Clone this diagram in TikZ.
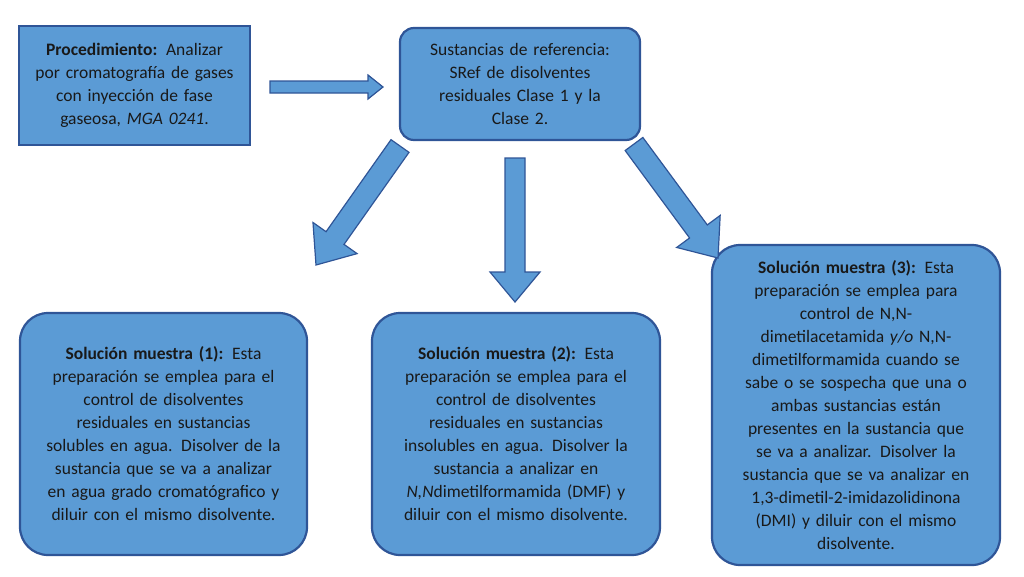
\documentclass[tikz,border=0pt]{standalone}
\usepackage{fontspec}
\setmainfont{Carlito}
\usetikzlibrary{calc}
\definecolor{fillb}{HTML}{5B9BD5}
\definecolor{edgeb}{HTML}{2F5597}
\tikzset{
 box/.style={draw=edgeb, line width=2.2pt, fill=fillb, align=center, text=black!90,
   font=\fontsize{17.5}{23}\selectfont, inner sep=4pt},
 rbox/.style={box, rounded corners=28pt},
 barrowst/.style={draw=edgeb, line width=1.2pt, fill=fillb, line join=miter}
}
\newcommand\blockarrow[5]{% from, to, shaft half, head half, head length
 \draw[barrowst] ($(#1)!#3pt!90:(#2)$) -- ($($(#2)!#5pt!(#1)$)!#3pt!-90:(#1)$)
   -- ($($(#2)!#5pt!(#1)$)!#4pt!-90:(#1)$) -- (#2)
   -- ($($(#2)!#5pt!(#1)$)!#4pt!90:(#1)$) -- ($($(#2)!#5pt!(#1)$)!#3pt!90:(#1)$)
   -- ($(#1)!#3pt!-90:(#2)$) -- cycle;}
\begin{document}
\begin{tikzpicture}[x=1pt,y=-1pt]
\useasboundingbox (0,0) rectangle (1024,576);
\node[box, minimum width=231pt, minimum height=119pt, text width=222pt] (p) at (134.5,85.5)
 {\textbf{Procedimiento:} Analizar\\ por cromatografía de gases\\ con inyección de fase\\ gaseosa, \textit{MGA 0241}.};
\node[rbox, rounded corners=14pt, minimum width=240pt, minimum height=112pt, text width=230pt] (s) at (520,84)
 {Sustancias de referencia:\\ SRef de disolventes\\ residuales Clase 1 y la\\ Clase 2.};
\node[rbox, minimum width=287pt, minimum height=242pt, text width=275pt] (m1) at (163.5,434)
 {\textbf{Solución muestra (1):} Esta\\ preparación se emplea para el\\ control de disolventes\\ residuales en sustancias\\ solubles en agua. Disolver de la\\ sustancia que se va a analizar\\ en agua grado cromatógrafico y\\ diluir con el mismo disolvente.};
\node[rbox, minimum width=288pt, minimum height=242pt, text width=275pt] (m2) at (516,434)
 {\textbf{Solución muestra (2):} Esta\\ preparación se emplea para el\\ control de disolventes\\ residuales en sustancias\\ insolubles en agua. Disolver la\\ sustancia a analizar en\\ \textit{N,N}dimetilformamida (DMF) y\\ diluir con el mismo disolvente.};
\node[rbox, minimum width=288pt, minimum height=320pt, text width=275pt] (m3) at (856,405)
 {\textbf{Solución muestra (3):} Esta\\ preparación se emplea para\\ control de N,N-\\ dimetilacetamida \textit{y/o} N,N-\\ dimetilformamida cuando se\\ sabe o se sospecha que una o\\ ambas sustancias están\\ presentes en la sustancia que\\ se va a analizar. Disolver la\\ sustancia que se va analizar en\\ 1,3-dimetil-2-imidazolidinona\\ (DMI) y diluir con el mismo\\ disolvente.};
\coordinate (a0s) at (270,87); \coordinate (a0e) at (383,87);
\coordinate (a1s) at (400,146); \coordinate (a1e) at (316,265);
\coordinate (a2s) at (515,158); \coordinate (a2e) at (515,302);
\coordinate (a3s) at (634,144); \coordinate (a3e) at (718,258);
\blockarrow{a0s}{a0e}{6}{12}{15}
\blockarrow{a1s}{a1e}{11}{27}{33}
\blockarrow{a2s}{a2e}{10}{25}{30}
\blockarrow{a3s}{a3e}{11}{27}{33}
\end{tikzpicture}
\end{document}
